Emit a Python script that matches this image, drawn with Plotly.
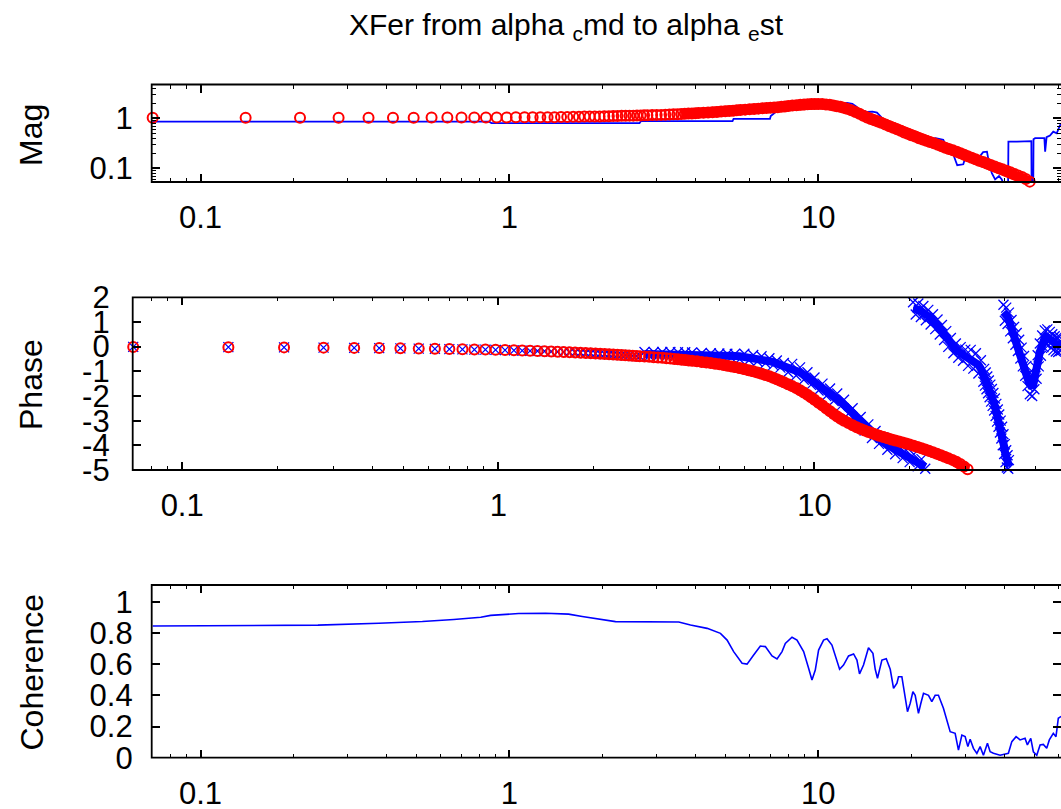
import plotly.graph_objects as go

# ---------------- data ----------------
# model (fit) evaluated at the FFT bins, shared by magnitude and phase panels
model_freq = [
    0.07, 0.14, 0.21, 0.28, 0.35, 0.42, 0.49, 0.56, 0.63, 0.70,
    0.77, 0.84, 0.91, 0.98, 1.05, 1.12, 1.19, 1.26, 1.33, 1.40,
    1.47, 1.54, 1.61, 1.68, 1.75, 1.82, 1.89, 1.96, 2.03, 2.10,
    2.17, 2.24, 2.31, 2.38, 2.45, 2.52, 2.59, 2.66, 2.73, 2.80,
    2.9, 3.0, 3.1, 3.2, 3.3, 3.4, 3.5, 3.6, 3.7, 3.8, 3.9, 4.0, 4.1,
    4.25, 4.4, 4.55, 4.7, 4.85, 5.0, 5.15, 5.3, 5.45, 5.6,
    5.8, 6.0, 6.2, 6.4, 6.6, 6.8, 7.0, 7.2, 7.4, 7.6, 7.8, 8.0,
    8.25, 8.5, 8.75, 9.0, 9.25, 9.5, 9.75, 10.0,
    10.3, 10.6, 10.9, 11.2, 11.5, 11.8, 12.1, 12.4,
    12.8, 13.2, 13.6, 14.0, 14.4, 14.8, 15.2, 15.6, 16.0,
    16.5, 17.0, 17.5, 18.0, 18.5, 19.0, 19.5, 20.0,
    20.6, 21.2, 21.8, 22.4,
    23.0, 23.7, 24.4, 25.1, 25.8, 26.5, 27.3, 28.1, 28.9, 29.7,
    30.5, 31.4, 32.3, 33.2, 34.2, 35.2, 36.2, 37.3, 38.4, 39.5,
    40.7, 41.9, 43.1, 44.4, 45.7, 47.0, 48.4,
]
model_mag = [
    1.03, 1.03, 1.03, 1.03, 1.03, 1.03, 1.03, 1.04, 1.04, 1.04,
    1.04, 1.04, 1.04, 1.04, 1.05, 1.05, 1.05, 1.05, 1.05, 1.05,
    1.06, 1.06, 1.07, 1.07, 1.08, 1.08, 1.09, 1.09, 1.10, 1.10,
    1.11, 1.11, 1.12, 1.12, 1.13, 1.13, 1.14, 1.14, 1.15, 1.15,
    1.16, 1.17, 1.17, 1.18, 1.19, 1.20, 1.21, 1.22, 1.23, 1.24, 1.25, 1.26, 1.27,
    1.29, 1.30, 1.32, 1.34, 1.36, 1.38, 1.40, 1.42, 1.44, 1.46,
    1.49, 1.52, 1.54, 1.56, 1.58, 1.61, 1.63, 1.65, 1.67, 1.70, 1.73, 1.76,
    1.80, 1.83, 1.86, 1.88, 1.90, 1.92, 1.93, 1.93,
    1.92, 1.89, 1.86, 1.81, 1.75, 1.70, 1.63, 1.55,
    1.44, 1.33, 1.23, 1.12, 1.04, 0.97, 0.91, 0.86, 0.81,
    0.75, 0.69, 0.645, 0.60, 0.56, 0.52, 0.49, 0.46,
    0.43, 0.40, 0.375, 0.355,
    0.335, 0.315, 0.295, 0.275, 0.258, 0.243, 0.228, 0.213, 0.199, 0.186,
    0.174, 0.162, 0.152, 0.142, 0.133, 0.124, 0.116, 0.108, 0.101, 0.095,
    0.089, 0.083, 0.077, 0.072, 0.067, 0.061, 0.054,
]
model_phase = [
    -0.01, -0.02, -0.03, -0.04, -0.05, -0.06, -0.07, -0.08, -0.09, -0.10,
    -0.11, -0.12, -0.12, -0.13, -0.14, -0.15, -0.16, -0.17, -0.18, -0.19,
    -0.20, -0.21, -0.22, -0.23, -0.24, -0.25, -0.26, -0.27, -0.28, -0.29,
    -0.30, -0.31, -0.32, -0.33, -0.34, -0.35, -0.36, -0.37, -0.38, -0.39,
    -0.40, -0.41, -0.43, -0.44, -0.45, -0.47, -0.48, -0.50, -0.51, -0.53, -0.54, -0.56, -0.57,
    -0.59, -0.62, -0.64, -0.66, -0.69, -0.71, -0.74, -0.77, -0.80, -0.83,
    -0.87, -0.91, -0.96, -1.00, -1.05, -1.10, -1.15, -1.20, -1.26, -1.32, -1.38, -1.44,
    -1.52, -1.60, -1.68, -1.77, -1.86, -1.95, -2.05, -2.15,
    -2.27, -2.39, -2.51, -2.62, -2.73, -2.83, -2.92, -3.00,
    -3.10, -3.19, -3.27, -3.34, -3.40, -3.46, -3.51, -3.56, -3.61,
    -3.66, -3.71, -3.76, -3.80, -3.84, -3.89, -3.93, -3.97,
    -4.02, -4.07, -4.12, -4.17,
    -4.22, -4.28, -4.34, -4.40, -4.46, -4.52, -4.59, -4.67, -4.76, -4.86,
    -4.97, None, None, None, None, None, None, None, None, None,
    None, None, None, None, None, None, None,
]

# measured magnitude (drawn as a line)
meas_mag_freq = [
    0.07, 0.86, 0.875, 2.64, 2.67, 5.28, 5.32, 6.98, 7.02, 7.3,
    8.0, 9.0, 10.0, 10.6, 11.2, 11.9, 12.4, 12.9, 13.3, 13.6,
    14.0, 14.4, 15.0, 15.5, 16.0, 16.3, 17.1, 18.0, 19.0, 20.0,
    21.0, 22.0, 23.0, 24.0, 25.4, 26.0, 27.0, 28.2, 29.5, 30.0,
    31.0, 32.5, 34.2, 35.2, 35.8, 36.5, 37.4, 38.5, 39.3, 40.0,
    41.2, 41.3, 44.0, 47.4, 47.8, 49.0, 49.1, 49.7, 49.8, 50.4,
    51.5, 52.3, 54.0, 54.3, 54.9, 56.3, 57.7, 59.2, 60.7, 62.0,
]
meas_mag = [
    0.855, 0.855, 0.80, 0.80, 0.88, 0.88, 0.97, 0.97, 1.11, 1.35,
    1.62, 1.80, 1.90, 1.95, 1.98, 1.92, 2.02, 1.95, 1.70, 1.45,
    1.38, 1.34, 1.36, 1.30, 1.05, 0.93, 0.78, 0.60, 0.52, 0.46,
    0.40, 0.36, 0.38, 0.40, 0.37, 0.28, 0.24, 0.115, 0.12, 0.17,
    0.16, 0.14, 0.21, 0.215, 0.12, 0.08, 0.06, 0.07, 0.06, 0.045,
    0.045, 0.34, 0.34, 0.34, 0.35, 0.35, 0.045, 0.045, 0.38, 0.40,
    0.40, 0.40, 0.40, 0.215, 0.42, 0.45, 0.54, 0.50, 0.73, 0.78,
]

# measured phase, main branch (same bins as the model up to 22.4 Hz)
meas_phase_freq = model_freq[:112]
meas_phase = [
    -0.01, -0.02, -0.03, -0.04, -0.05, -0.06, -0.07, -0.08, -0.09, -0.10,
    -0.11, -0.12, -0.12, -0.13, -0.14, -0.15, -0.16, -0.17, -0.18, -0.19,
    -0.20, -0.21, -0.22, -0.23, -0.24, -0.25, -0.26, -0.27, -0.28, -0.29,
    -0.30, -0.31, -0.32, -0.33, -0.34, -0.35, -0.36, -0.37, -0.38, -0.39,
    -0.22, -0.38, -0.22, -0.38, -0.22, -0.38, -0.22, -0.39, -0.23, -0.39, -0.23, -0.40, -0.24,
    -0.41, -0.26, -0.42, -0.27, -0.43, -0.28, -0.44, -0.29, -0.45, -0.30,
    -0.51, -0.29, -0.55, -0.34, -0.60, -0.39, -0.67, -0.47, -0.75, -0.56, -0.85, -0.66,
    -1.04, -0.70, -1.17, -0.84, -1.34, -1.04, -1.55, -1.25,
    -1.78, -1.50, -2.00, -1.70, -2.20, -1.90, -2.42, -2.15,
    -2.72, -2.50, -3.08, -2.85, -3.40, -3.15, -3.70, -3.42, -3.94,
    -3.68, -4.18, -3.88, -4.36, -4.04, -4.52, -4.20, -4.68,
    -4.36, -4.85, -4.56, -4.95,
]
# centre of the scattered measured phase above 2.9 Hz
meas_phase_mid_freq = model_freq[40:112]
meas_phase_mid = [
    -0.30, -0.30, -0.30, -0.30, -0.30, -0.30, -0.30, -0.31, -0.31, -0.31, -0.31, -0.32, -0.32,
    -0.33, -0.34, -0.34, -0.35, -0.35, -0.36, -0.36, -0.37, -0.37, -0.38,
    -0.39, -0.41, -0.43, -0.46, -0.48, -0.51, -0.55, -0.59, -0.63, -0.68, -0.73, -0.78,
    -0.84, -0.90, -0.97, -1.04, -1.14, -1.24, -1.35, -1.45,
    -1.58, -1.70, -1.80, -1.90, -2.00, -2.10, -2.22, -2.35,
    -2.52, -2.70, -2.88, -3.05, -3.20, -3.35, -3.50, -3.62, -3.74,
    -3.88, -3.98, -4.08, -4.16, -4.24, -4.32, -4.40, -4.48,
    -4.56, -4.65, -4.76, -4.88,
]

# measured phase after the first wrap
wrap1_freq = [
    20.5, 20.9, 21.3, 21.7, 22.1, 22.5, 22.9, 23.3, 23.7, 24.1,
    24.5, 24.9, 25.3, 25.7, 26.1, 26.5, 27.0, 27.5, 28.0, 28.5,
    29.0, 29.5, 30.0, 30.6, 31.2, 31.8, 32.4, 33.0, 33.6,
    34.2, 34.4, 34.6, 34.8, 35.0, 35.2, 35.4, 35.6, 35.8, 36.0,
    36.2, 36.4, 36.6, 36.8, 37.0, 37.2, 37.4, 37.6, 37.8, 38.0,
    38.2, 38.4, 38.6, 38.8, 39.0, 39.2, 39.4, 39.6, 39.8, 40.0,
    40.2, 40.4, 40.6, 40.8, 41.0, 41.2,
]
wrap1_phase = [
    1.80, 1.30, 1.75, 1.20, 1.65, 1.07, 1.49, 0.90, 1.31, 0.71,
    1.10, 0.49, 0.88, 0.27, 0.63, -0.01, 0.35, -0.27, 0.13, -0.45,
    -0.02, -0.57, -0.12, -0.78, -0.13, -0.89, -0.27, -1.09, -0.55,
    -1.42, -0.90, -1.58, -1.05, -1.73, -1.21, -1.89, -1.37, -2.05, -1.54,
    -2.23, -1.72, -2.40, -1.88, -2.59, -2.10, -2.81, -2.32, -3.04, -2.55,
    -3.25, -2.75, -3.48, -3.00, -3.72, -3.25, -4.00, -3.55, -4.35, -3.95,
    -4.68, -4.20, -4.90, -4.40, -4.95, -4.60,
]
wrap1_mid = [
    1.55, 1.55, 1.50, 1.45, 1.40, 1.32, 1.24, 1.15, 1.06, 0.96,
    0.85, 0.74, 0.63, 0.52, 0.38, 0.24, 0.10, -0.02, -0.12, -0.20,
    -0.27, -0.32, -0.37, -0.43, -0.48, -0.54, -0.62, -0.74, -0.90,
    -1.12, -1.20, -1.28, -1.35, -1.43, -1.51, -1.59, -1.67, -1.75, -1.84,
    -1.93, -2.02, -2.10, -2.18, -2.29, -2.40, -2.51, -2.62, -2.74, -2.85,
    -2.95, -3.05, -3.18, -3.30, -3.42, -3.55, -3.70, -3.85, -4.05, -4.25,
    -4.38, -4.50, -4.60, -4.70, -4.80, -4.85,
]

# measured phase after the second wrap
wrap2_freq = [
    39.6, 40.0, 40.4, 40.8, 41.2, 41.6, 42.0, 42.4, 42.8, 43.2,
    43.6, 44.0, 44.4, 44.8, 45.2, 45.6, 46.0, 46.4, 46.8, 47.2,
    47.6, 48.0, 48.4, 48.8, 49.2, 49.6, 50.0, 50.4, 50.8, 51.2,
    51.6, 52.0, 52.5, 53.0, 53.5, 54.0, 54.5, 55.0, 55.5, 56.0,
    56.5, 57.0, 57.5, 58.0, 58.5, 59.0, 59.5, 60.0, 60.5, 61.0, 61.5,
]
wrap2_phase = [
    1.70, 1.05, 1.58, 0.92, 1.38, 0.62, 1.08, 0.34, 0.80, 0.08,
    0.55, -0.18, 0.28, -0.48, -0.04, -0.80, -0.38, -1.18, -0.78, -1.60,
    -1.10, -1.93, -1.31, -2.00, -1.20, -1.73, -0.83, -1.30, -0.35, -0.80,
    0.13, -0.37, 0.45, -0.02, 0.66, 0.10, 0.70, 0.06, 0.60, -0.05,
    0.50, -0.14, 0.42, -0.20, 0.38, -0.22, 0.40, -0.18, 0.44, -0.16, 0.42,
]
wrap2_mid = [
    1.40, 1.35, 1.28, 1.22, 1.08, 0.92, 0.78, 0.64, 0.50, 0.38,
    0.25, 0.12, -0.02, -0.18, -0.34, -0.50, -0.68, -0.88, -1.08, -1.28,
    -1.45, -1.58, -1.66, -1.66, -1.55, -1.38, -1.18, -0.95, -0.70, -0.45,
    -0.22, -0.02, 0.15, 0.28, 0.36, 0.40, 0.40, 0.36, 0.30, 0.25,
    0.20, 0.16, 0.12, 0.10, 0.08, 0.08, 0.10, 0.12, 0.14, 0.14, 0.12,
]

# coherence
coh_freq = [
    0.070, 0.240, 0.378, 0.523, 0.661, 0.808, 0.870, 1.072, 1.310, 1.555,
    1.722, 2.000, 2.207, 3.536, 3.859, 4.370, 4.825, 5.070, 5.325, 5.670,
    5.885, 6.181, 6.497, 6.744, 7.089, 7.358, 7.637, 7.827, 8.227, 8.538,
    8.972, 9.311, 9.548, 9.786, 10.03, 10.41, 10.68, 11.08, 11.50, 11.73,
    12.08, 12.54, 13.02, 13.35, 13.61, 14.02, 14.55, 15.04, 15.30, 15.56,
    16.08, 16.61, 17.11, 17.54, 17.99, 18.20, 18.66, 19.13, 19.46, 19.86,
    20.26, 20.61, 21.12, 21.50, 21.93, 22.76, 23.33, 23.92, 24.51, 25.44,
    26.10, 26.75, 27.76, 28.46, 29.19, 29.91, 30.52, 31.05, 31.82, 32.64,
    33.45, 34.28, 35.32, 36.04, 36.93, 38.82, 41.29, 42.36, 43.73, 45.05,
    46.76, 47.57, 48.79, 49.74, 51.02, 52.30, 53.58, 54.95, 56.03, 57.72,
    58.88, 59.91, 60.67, 62.0,
]
coh = [
    0.844, 0.850, 0.862, 0.873, 0.886, 0.900, 0.912, 0.924, 0.926, 0.920,
    0.905, 0.887, 0.872, 0.870, 0.851, 0.829, 0.797, 0.754, 0.680, 0.605,
    0.600, 0.658, 0.716, 0.712, 0.652, 0.633, 0.680, 0.733, 0.772, 0.754,
    0.680, 0.573, 0.498, 0.562, 0.690, 0.754, 0.763, 0.722, 0.626, 0.567,
    0.594, 0.652, 0.665, 0.626, 0.537, 0.594, 0.705, 0.669, 0.567, 0.509,
    0.626, 0.635, 0.567, 0.445, 0.477, 0.519, 0.519, 0.402, 0.295, 0.349,
    0.423, 0.400, 0.285, 0.349, 0.413, 0.400, 0.359, 0.400, 0.400, 0.317,
    0.231, 0.167, 0.156, 0.049, 0.145, 0.135, 0.071, 0.118, 0.060, 0.028,
    0.071, 0.016, 0.092, 0.038, 0.028, 0.016, 0.028, 0.103, 0.135, 0.114,
    0.124, 0.082, 0.124, 0.038, 0.016, 0.082, 0.085, 0.060, 0.114, 0.156,
    0.135, 0.253, 0.260, 0.270,
]

# axis ticks
freq_major = [0.1, 1, 10]
freq_major_text = ["0.1", "1", "10"]
freq_minor = [0.08, 0.09, 0.2, 0.3, 0.4, 0.5, 0.6, 0.7, 0.8, 0.9,
              2, 3, 4, 5, 6, 7, 8, 9, 20, 30, 40, 50, 60]
mag_major = [0.1, 1]
mag_major_text = ["0.1", "1"]
mag_minor = [0.06, 0.07, 0.08, 0.09, 0.2, 0.3, 0.4, 0.5, 0.6, 0.7, 0.8, 0.9, 2, 3, 4]
phase_ticks = [2, 1, 0, -1, -2, -3, -4, -5]
phase_tick_text = ["2", "1", "0", "-1", "-2", "-3", "-4", "-5"]
coh_ticks = [0, 0.2, 0.4, 0.6, 0.8, 1]
coh_tick_text = ["0", "0.2", "0.4", "0.6", "0.8", "1"]

# ---------------- styling ----------------
BLUE = "#0000ff"
RED = "#ff0000"
FONT = "Liberation Sans, Arial, sans-serif"
W, H = 1061, 809
DENSE = 47          # from here on the model markers merge into a solid band


def px_x(p):
    return p / W


def px_y(p):
    return (H - p) / H


red_marker = dict(symbol="circle-open", size=10, color=RED, line=dict(color=RED, width=2))
blue_marker = dict(symbol="x-thin-open", size=10, color=BLUE, line=dict(color=BLUE, width=1.3))

fig = go.Figure()

# magnitude panel
fig.add_trace(go.Scatter(x=meas_mag_freq, y=meas_mag, mode="lines",
                         line=dict(color=BLUE, width=1.8),
                         xaxis="x", yaxis="y", showlegend=False))
fig.add_trace(go.Scatter(x=model_freq[DENSE:], y=model_mag[DENSE:], mode="lines",
                         line=dict(color=RED, width=10),
                         xaxis="x", yaxis="y", showlegend=False))
fig.add_trace(go.Scatter(x=model_freq, y=model_mag, mode="markers", marker=red_marker,
                         cliponaxis=False, xaxis="x", yaxis="y", showlegend=False))

# phase panel: measured scatter first, model on top
for fx, fy in ((meas_phase_mid_freq, meas_phase_mid), (wrap1_freq, wrap1_mid), (wrap2_freq, wrap2_mid)):
    fig.add_trace(go.Scatter(x=fx, y=fy, mode="lines", line=dict(color=BLUE, width=8),
                             xaxis="x2", yaxis="y2", showlegend=False))
for fx, fy in ((meas_phase_freq, meas_phase), (wrap1_freq, wrap1_phase), (wrap2_freq, wrap2_phase)):
    fig.add_trace(go.Scatter(x=fx, y=fy, mode="markers", marker=blue_marker,
                             cliponaxis=False, xaxis="x2", yaxis="y2", showlegend=False))
fig.add_trace(go.Scatter(x=model_freq[DENSE:], y=model_phase[DENSE:], mode="lines",
                         line=dict(color=RED, width=10),
                         xaxis="x2", yaxis="y2", showlegend=False))
fig.add_trace(go.Scatter(x=model_freq, y=model_phase, mode="markers", marker=red_marker,
                         cliponaxis=False, xaxis="x2", yaxis="y2", showlegend=False))

# coherence panel
fig.add_trace(go.Scatter(x=coh_freq, y=coh, mode="lines",
                         line=dict(color=BLUE, width=1.6),
                         xaxis="x3", yaxis="y3", showlegend=False))

tickfont = dict(family=FONT, size=31, color="black")
minor_x = dict(tickvals=freq_minor, ticks="inside", ticklen=4, tickwidth=1.3,
               tickcolor="black", showgrid=False)


def xaxis_cfg(left_px, rng):
    return dict(type="log", domain=[px_x(left_px), 1], range=rng, automargin=False,
                tickvals=freq_major, ticktext=freq_major_text,
                ticks="inside", ticklen=8, tickwidth=1.5, tickcolor="black",
                mirror="ticks", showline=False, showgrid=False, zeroline=False,
                minor=minor_x, tickfont=tickfont, ticklabelstandoff=14)


def yaxis_cfg(top_px, bottom_px, **kw):
    d = dict(domain=[px_y(bottom_px), px_y(top_px)], automargin=False,
             ticks="inside", ticklen=8, tickwidth=1.5, tickcolor="black",
             mirror="ticks", showline=False, showgrid=False, zeroline=False,
             tickfont=tickfont, ticklabelstandoff=18)
    d.update(kw)
    return d


fig.update_layout(
    width=W, height=H,
    margin=dict(l=0, r=0, t=0, b=0, autoexpand=False),
    paper_bgcolor="white", plot_bgcolor="white",
    font=dict(family=FONT, color="black"),
    xaxis=xaxis_cfg(151.7, [-1.158, 1.7862]) | dict(anchor="y"),
    yaxis=yaxis_cfg(84.5, 182, type="log", range=[-1.275, 0.676],
                    tickvals=mag_major, ticktext=mag_major_text,
                    minor=dict(tickvals=mag_minor, ticks="inside", ticklen=4,
                               tickwidth=1.3, tickcolor="black", showgrid=False),
                    anchor="x"),
    xaxis2=xaxis_cfg(132.7, [-1.1565, 1.7797]) | dict(anchor="y2"),
    yaxis2=yaxis_cfg(297.3, 470, range=[-5, 2], tickvals=phase_ticks,
                     ticktext=phase_tick_text, anchor="x2", ticklabelstandoff=22),
    xaxis3=xaxis_cfg(151.7, [-1.158, 1.7862]) | dict(anchor="y3"),
    yaxis3=yaxis_cfg(585, 757.7, range=[0, 1.107], tickvals=coh_ticks,
                     ticktext=coh_tick_text, anchor="x3"),
)

# plot frames (the right edge lies just past the page)
for xr, yr in (("x", "y"), ("x2", "y2"), ("x3", "y3")):
    fig.add_shape(type="rect", xref=f"{xr} domain", yref=f"{yr} domain",
                  x0=0, x1=1.01, y0=0, y1=1,
                  line=dict(color="black", width=1.8), layer="above")

# title and axis labels
fig.add_annotation(text="XFer from alpha <sub>c</sub>md to alpha <sub>e</sub>st",
                   xref="paper", yref="paper", x=px_x(566), y=px_y(26),
                   xanchor="center", yanchor="middle", showarrow=False,
                   font=dict(family=FONT, size=30, color="black"))
for label, cy in (("Mag", 135), ("Phase", 385), ("Coherence", 672.5)):
    fig.add_annotation(text=label, xref="paper", yref="paper",
                       x=px_x(31), y=px_y(cy), xanchor="center", yanchor="middle",
                       textangle=-90, showarrow=False,
                       font=dict(family=FONT, size=32, color="black"))

fig.write_html("out.html")
